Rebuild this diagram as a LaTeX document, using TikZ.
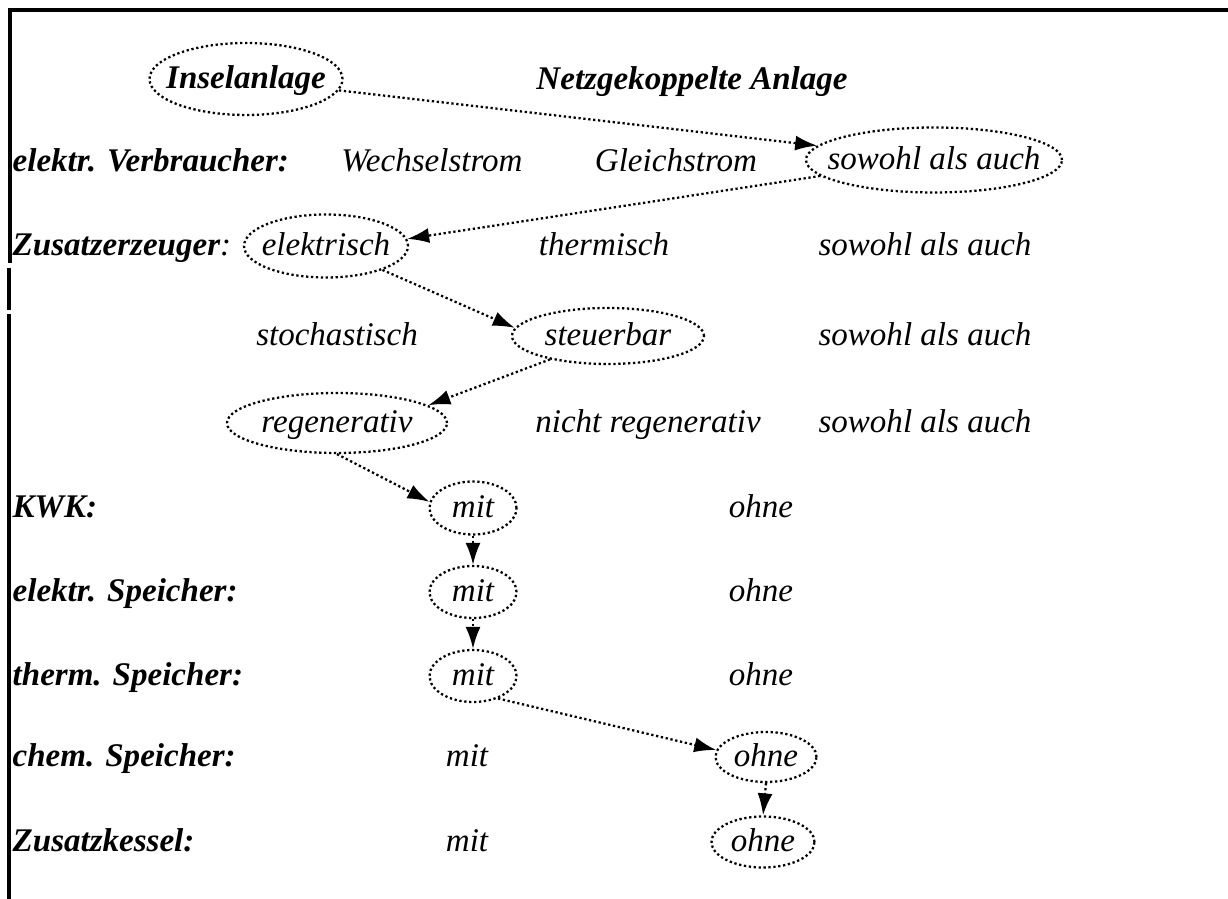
\documentclass[tikz,border=0pt]{standalone}
\usepackage{fontspec}
\setmainfont{Liberation Serif}
\usetikzlibrary{arrows.meta,shapes.geometric}

\tikzset{
  every node/.style={font=\fontsize{9.4}{11}\selectfont\itshape, text height=0.25cm, text depth=0.06cm, inner sep=0pt},
  merkmal/.style={anchor=west, font=\fontsize{9.4}{11}\selectfont\bfseries\itshape},
  wahl/.style={ellipse, draw, line width=0.65pt, dash pattern=on 0.65pt off 0.75pt,
    execute at begin node={\hbox to 0pt\bgroup\hss}, execute at end node={\hss\egroup}},
  kante/.style={line width=0.65pt, dash pattern=on 0.65pt off 0.75pt, -{Latex[length=0.22cm,width=0.15cm]}}
}

\begin{document}
\begin{tikzpicture}
  \useasboundingbox (0,0) rectangle (12.28,-8.99);
  % Rahmen
  \draw[line width=1pt] (12.28,-0.10) -- (0.10,-0.10) -- (0.10,-2.63);
  \draw[line width=1pt] (0.09,-2.68) -- (0.09,-3.10);
  \draw[line width=1pt] (0.09,-3.14) -- (0.09,-8.99);

  % Anlage
  \draw (2.46,-0.79) node[wahl,minimum width=1.93cm,minimum height=0.72cm] (insel) {\bfseries Inselanlage};
  \draw (6.92,-0.80) node (netz) {\bfseries Netzgekoppelte Anlage};

  % Verbraucher
  \draw (0.12,-1.62) node[merkmal] (verbr) {elektr. Verbraucher:};
  \draw (4.32,-1.62) node (wechsel) {Wechselstrom};
  \draw (6.76,-1.62) node (gleich) {Gleichstrom};
  \draw (9.34,-1.60) node[wahl,minimum width=2.56cm,minimum height=0.65cm] (beides-v) {sowohl als auch};

  % Zusatzerzeuger
  \draw (0.12,-2.46) node[merkmal] (zusatz) {Zusatzerzeuger\textmd{:}};
  \draw (3.26,-2.46) node[wahl,minimum width=1.64cm,minimum height=0.63cm] (elektrisch) {elektrisch};
  \draw (6.04,-2.46) node (thermisch) {thermisch};
  \draw (9.25,-2.46) node (beides-z) {sowohl als auch};

  \draw (3.37,-3.36) node (stoch) {stochastisch};
  \draw (6.08,-3.36) node[wahl,minimum width=1.92cm,minimum height=0.56cm] (steuer) {steuerbar};
  \draw (9.25,-3.36) node (beides-s) {sowohl als auch};

  \draw (3.37,-4.23) node[wahl,minimum width=2.20cm,minimum height=0.60cm] (regen) {regenerativ};
  \draw (6.48,-4.23) node (nregen) {nicht regenerativ};
  \draw (9.25,-4.23) node (beides-r) {sowohl als auch};

  % Komponenten
  \draw (0.12,-5.08) node[merkmal] (kwk) {KWK:};
  \draw (4.73,-5.08) node[wahl,minimum width=0.87cm,minimum height=0.53cm] (kwk-mit) {mit};
  \draw (7.61,-5.08) node (kwk-ohne) {ohne};

  \draw (0.12,-5.92) node[merkmal] (espeich) {elektr. Speicher:};
  \draw (4.73,-5.92) node[wahl,minimum width=0.87cm,minimum height=0.52cm] (espeich-mit) {mit};
  \draw (7.61,-5.92) node (espeich-ohne) {ohne};

  \draw (0.12,-6.76) node[merkmal] (tspeich) {therm. Speicher:};
  \draw (4.73,-6.76) node[wahl,minimum width=0.87cm,minimum height=0.52cm] (tspeich-mit) {mit};
  \draw (7.61,-6.76) node (tspeich-ohne) {ohne};

  \draw (0.12,-7.57) node[merkmal] (cspeich) {chem. Speicher:};
  \draw (4.67,-7.57) node (cspeich-mit) {mit};
  \draw (7.66,-7.57) node[wahl,minimum width=1.01cm,minimum height=0.50cm] (cspeich-ohne) {ohne};

  \draw (0.12,-8.42) node[merkmal] (kessel) {Zusatzkessel:};
  \draw (4.67,-8.42) node (kessel-mit) {mit};
  \draw (7.63,-8.42) node[wahl,minimum width=1.03cm,minimum height=0.51cm] (kessel-ohne) {ohne};

  % Pfad
  \path (insel.-7) edge[kante] (beides-v.173);
  \path (beides-v.188) edge[kante] (elektrisch.5);
  \path (elektrisch.-23) edge[kante] (steuer.175);
  \path (steuer.202) edge[kante] (regen.11);
  \path (regen.270) edge[kante] (kwk-mit.172);
  \path (kwk-mit.south) edge[kante] (espeich-mit.north);
  \path (espeich-mit.south) edge[kante] (tspeich-mit.north);
  \path (tspeich-mit.-42) edge[kante] (cspeich-ohne.172);
  \path (cspeich-ohne.south) edge[kante] (kessel-ohne.north);
\end{tikzpicture}
\end{document}
